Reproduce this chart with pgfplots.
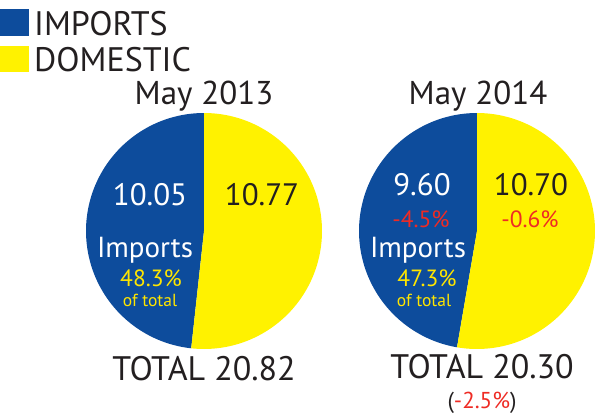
\documentclass[border=0pt]{standalone}
\usepackage{fontspec}
\setmainfont{PT Sans}
\usepackage{pgfplots}
\usepackage{pgfplotstable}
\pgfplotsset{compat=1.18}
\definecolor{impblue}{HTML}{0D4C9C}
\definecolor{domyellow}{HTML}{FFF200}
\definecolor{txtgray}{HTML}{231F20}
\definecolor{chgred}{HTML}{EE2B24}
\definecolor{pctyellow}{HTML}{FFE600}

\pgfplotstableread{
period imports domestic
2013 10.05 10.77
2014 9.60 10.70
}\piedata

\newcommand{\fs}[1]{\fontsize{#1}{#1}\selectfont}

\begin{document}
\begin{tikzpicture}
\pgfplotstablegetelem{0}{imports}\of\piedata \let\impA\pgfplotsretval
\pgfplotstablegetelem{0}{domestic}\of\piedata \let\domA\pgfplotsretval
\pgfplotstablegetelem{1}{imports}\of\piedata \let\impB\pgfplotsretval
\pgfplotstablegetelem{1}{domestic}\of\piedata \let\domB\pgfplotsretval
\pgfmathsetmacro{\endA}{90+360*\impA/(\impA+\domA)}
\pgfmathsetmacro{\endB}{90+360*\impB/(\impB+\domB)}
\begin{axis}[
  width=600pt, height=420pt, scale only axis,
  xmin=0, xmax=600, ymin=0, ymax=420, y dir=reverse,
  hide axis, clip=false,
]
\path (axis cs:0,0) rectangle (axis cs:600,420);
% pie 2013
\addplot[fill=impblue, draw=none, domain=90:\endA, samples=120, variable=\t]
  ({204+118*cos(\t)},{231-118*sin(\t)}) -- (axis cs:204,231) -- cycle;
\addplot[fill=domyellow, draw=none, domain=\endA:450, samples=120, variable=\t]
  ({204+118*cos(\t)},{231-118*sin(\t)}) -- (axis cs:204,231) -- cycle;
% pie 2014
\addplot[fill=impblue, draw=none, domain=90:\endB, samples=120, variable=\t]
  ({477+118*cos(\t)},{231-118*sin(\t)}) -- (axis cs:477,231) -- cycle;
\addplot[fill=domyellow, draw=none, domain=\endB:450, samples=120, variable=\t]
  ({477+118*cos(\t)},{231-118*sin(\t)}) -- (axis cs:477,231) -- cycle;

% legend
\fill[impblue] (axis cs:0,9) rectangle (axis cs:29,36);
\fill[domyellow] (axis cs:0,46) rectangle (axis cs:29,72);
\node[anchor=base west, inner sep=0, text=txtgray, font=\fs{34}] at (axis cs:34,36) {IMPORTS};
\node[anchor=base west, inner sep=0, text=txtgray, font=\fs{34}] at (axis cs:34,72) {DOMESTIC};

% titles
\node[anchor=base, inner sep=0, text=txtgray, font=\fs{33}] at (axis cs:204,105) {May 2013};
\node[anchor=base, inner sep=0, text=txtgray, font=\fs{33}] at (axis cs:478,105) {May 2014};

% left pie labels
\node[anchor=base, inner sep=0, text=white, font=\fs{31}] at (axis cs:150,205) {10.05};
\node[anchor=base, inner sep=0, text=txtgray, font=\fs{31}] at (axis cs:262,205) {10.77};
\node[anchor=base, inner sep=0, text=white, font=\fs{29}] at (axis cs:145,257) {Imports};
\node[anchor=base, inner sep=0, text=pctyellow, font=\fs{23.5}] at (axis cs:151,286) {48.3\%};
\node[anchor=base, inner sep=0, text=pctyellow, font=\fs{17.5}] at (axis cs:150,306) {of total};
\node[anchor=base, inner sep=0, text=txtgray, font=\fs{34}] at (axis cs:204,380) {TOTAL 20.82};

% right pie labels
\node[anchor=base, inner sep=0, text=white, font=\fs{31}] at (axis cs:422,195) {9.60};
\node[anchor=base, inner sep=0, text=txtgray, font=\fs{31}] at (axis cs:531,195) {10.70};
\node[anchor=base, inner sep=0, text=chgred, font=\fs{23.5}] at (axis cs:421,227) {-4.5\%};
\node[anchor=base, inner sep=0, text=chgred, font=\fs{23.5}] at (axis cs:530,227) {-0.6\%};
\node[anchor=base, inner sep=0, text=white, font=\fs{29}] at (axis cs:418,257) {Imports};
\node[anchor=base, inner sep=0, text=pctyellow, font=\fs{23.5}] at (axis cs:427,286) {47.3\%};
\node[anchor=base, inner sep=0, text=pctyellow, font=\fs{17.5}] at (axis cs:424,306) {of total};
\node[anchor=base, inner sep=0, text=txtgray, font=\fs{34}] at (axis cs:482,378) {TOTAL 20.30};
\node[anchor=base, inner sep=0, text=txtgray, font=\fs{23}] at (axis cs:482,408) {(\textcolor{chgred}{-2.5\%})};
\end{axis}
\end{tikzpicture}
\end{document}
